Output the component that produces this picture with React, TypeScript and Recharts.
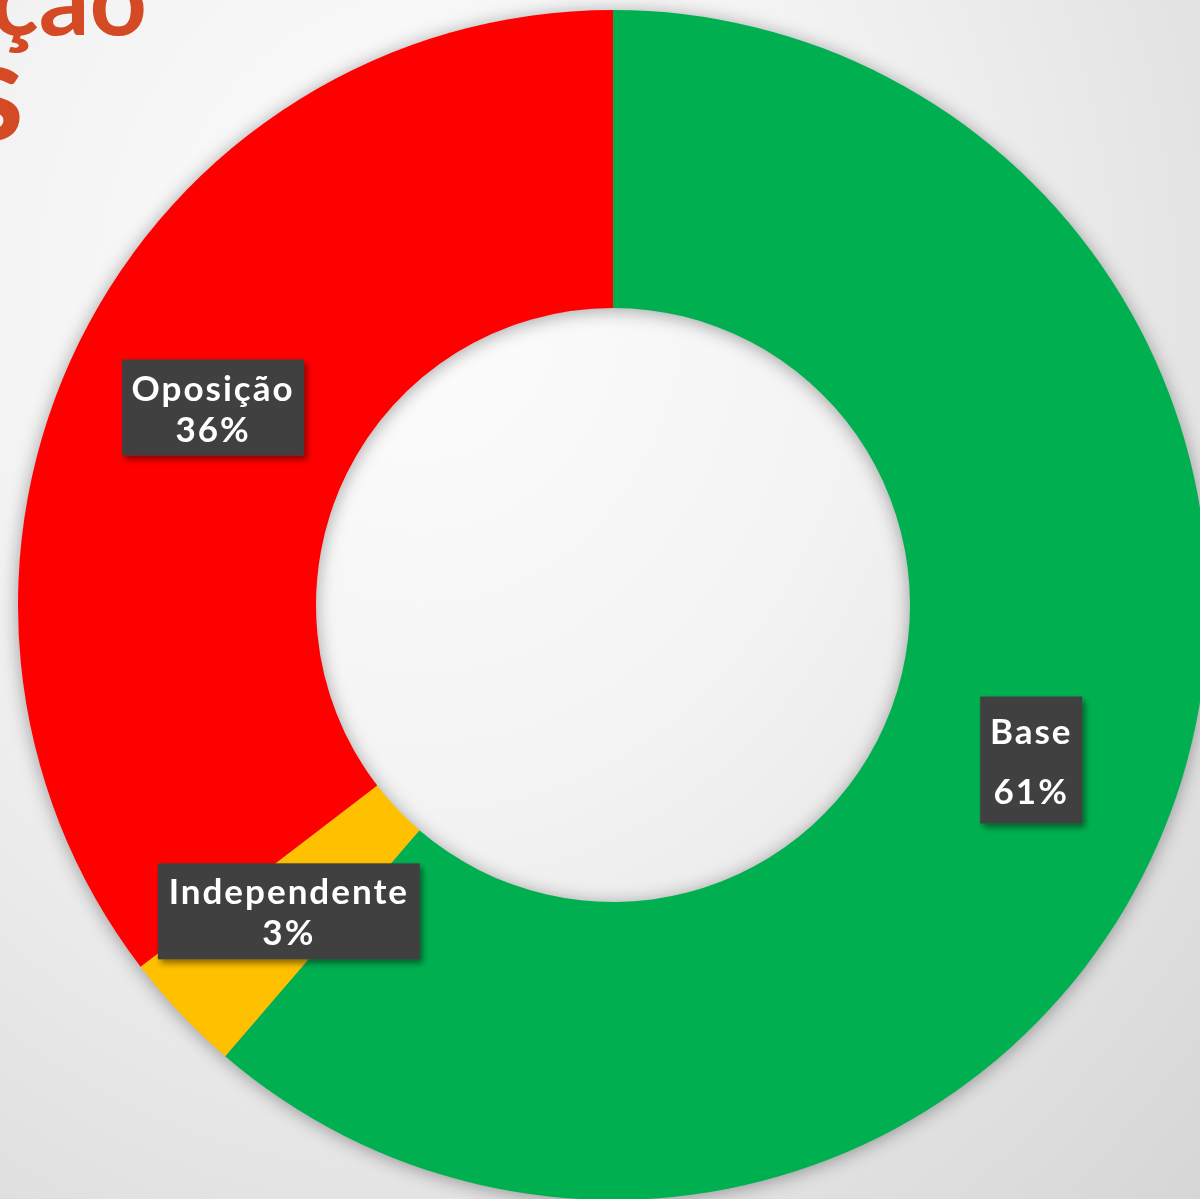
import { PieChart, Pie, Cell } from "recharts";

const categories = ["Base", "Independente", "Oposição"];
const shares = [61.3, 3.3, 35.4];
const shareLabels = ["61%", "3%", "36%"];
const colors = ["#00B050", "#FFC000", "#FF0000"];

const data = categories.map((name, i) => ({ name, value: shares[i], pct: shareLabels[i] }));

// label box look (Base wraps with a taller box in the original)
const boxPad = 22;
const lineGap = { Base: 60 } as Record<string, number>;

const FONT = "Lato, 'Noto Sans', sans-serif";

// eslint-disable-next-line @typescript-eslint/no-explicit-any
function renderLabel(props: any) {
  const { cx, cy, midAngle, innerRadius, outerRadius, payload } = props;
  const RAD = Math.PI / 180;
  const r = (innerRadius + outerRadius) / 2;
  const x = cx + r * Math.cos(-midAngle * RAD);
  const y = cy + r * Math.sin(-midAngle * RAD);
  const name: string = payload.name;
  const gap = lineGap[name] ?? 41;
  const w = name.length * 20 + boxPad;
  const h = gap + 55 + (gap > 41 ? 12 : 0);
  const top = y - h / 2;
  const first = top + (gap > 41 ? 47 : 41);
  return (
    <g>
      <rect
        x={x - w / 2}
        y={top}
        width={w}
        height={h}
        fill="#404040"
        filter="url(#boxShadow)"
      />
      <text
        x={x}
        y={first}
        textAnchor="middle"
        fill="#ffffff"
        fontFamily={FONT}
        fontWeight={700}
        fontSize={35}
        letterSpacing={2}
      >
        {name}
      </text>
      <text
        x={x}
        y={first + gap}
        textAnchor="middle"
        fill="#ffffff"
        fontFamily={FONT}
        fontWeight={700}
        fontSize={35}
        letterSpacing={2}
      >
        {payload.pct}
      </text>
    </g>
  );
}

export default function App() {
  return (
    <div
      style={{
        position: "fixed",
        left: 0,
        top: 0,
        width: 1200,
        height: 1199,
        overflow: "hidden",
        background:
          "radial-gradient(ellipse at 35% 25%, #fdfdfd 0%, #f3f3f3 40%, #e2e2e2 75%, #d6d6d6 100%)",
      }}
    >
      <style>{`.recharts-pie { filter: drop-shadow(0 2px 9px rgba(0,0,0,0.35)); }`}</style>
      <svg
        width={1200}
        height={1199}
        style={{ position: "absolute", left: 0, top: 0 }}
      >
        <text
          x={147}
          y={35}
          textAnchor="end"
          fill="#D34A24"
          fontFamily={FONT}
          fontWeight={700}
          fontSize={100}
        >
          ção
        </text>
        <text
          x={24}
          y={140}
          textAnchor="end"
          fill="#D34A24"
          fontFamily={FONT}
          fontWeight={700}
          fontSize={140}
        >
          s
        </text>
      </svg>
      <div style={{ position: "absolute", left: 0, top: 0 }}>
        <PieChart width={1200} height={1199} margin={{ top: 0, right: 0, bottom: 0, left: 0 }}>
          <defs>
            <filter id="boxShadow" x="-20%" y="-20%" width="140%" height="140%">
              <feDropShadow dx={3} dy={4} stdDeviation={3} floodColor="#000" floodOpacity={0.45} />
            </filter>
          </defs>
          <Pie
            data={data}
            dataKey="value"
            nameKey="name"
            cx={613}
            cy={605}
            innerRadius={297}
            outerRadius={595}
            startAngle={90}
            endAngle={-270}
            stroke="none"
            labelLine={false}
            label={renderLabel}
            isAnimationActive={false}
          >
            {data.map((d, i) => (
              <Cell key={d.name} fill={colors[i]} />
            ))}
          </Pie>
        </PieChart>
      </div>
    </div>
  );
}
